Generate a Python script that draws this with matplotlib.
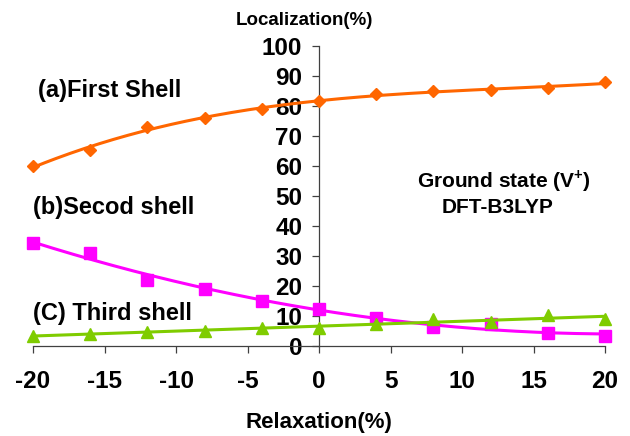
import numpy as np
import matplotlib
matplotlib.use('Agg')
import matplotlib.pyplot as plt

# relaxation (%) and localization (%) for each shell
relax = [-20, -16, -12, -8, -4, 0, 4, 8, 12, 16, 20]
first_shell = [60, 65.3, 73, 76, 79, 81.8, 84, 84.9, 85.3, 86, 87.9]
second_shell = [34.3, 31, 22, 19, 15, 12.3, 9.3, 6.3, 7.5, 4.2, 3.3]
third_shell = [3.3, 4, 4.8, 5.1, 6, 6, 7.2, 9.1, 8.1, 10.2, 9]

x_ticks = [-20, -15, -10, -5, 0, 5, 10, 15, 20]
y_ticks = [0, 10, 20, 30, 40, 50, 60, 70, 80, 90, 100]

plt.rcParams['font.family'] = ['Liberation Sans', 'DejaVu Sans']
plt.rcParams['font.weight'] = 'bold'
plt.rcParams['mathtext.fontset'] = 'custom'
plt.rcParams['mathtext.rm'] = 'Liberation Sans:bold'
plt.rcParams['mathtext.bf'] = 'Liberation Sans:bold'

fig = plt.figure(figsize=(6.3, 4.36), dpi=100)
ax = fig.add_axes([0.0524, 0.2064, 0.908, 0.688])

xs = np.array(relax, dtype=float)
xfit = np.linspace(-20, 20, 200)

# (values, colour, marker, marker size, trend order)
series = [
    (first_shell, '#FF6600', 'D', 6.5, 3),
    (second_shell, '#FF00FF', 's', 8.5, 2),
    (third_shell, '#7FCC00', '^', 8.5, 1),
]
z = 3
for vals, col, mk, ms, deg in series:
    # trend line (polynomial fit of the points)
    coef = np.polyfit(xs, np.array(vals, dtype=float), deg)
    ax.plot(xfit, np.polyval(coef, xfit), color=col, lw=2.2, clip_on=False, zorder=z)
    ax.plot(xs, vals, linestyle='none', marker=mk, color=col, markersize=ms,
            clip_on=False, zorder=z + 0.5)
    z += 1

ax.set_xlim(-20, 20)
ax.set_ylim(0, 100)
ax.spines['top'].set_visible(False)
ax.spines['right'].set_visible(False)
ax.spines['left'].set_position(('data', 0))
ax.spines['bottom'].set_position(('data', 0))
for s in ('left', 'bottom'):
    ax.spines[s].set_color('#404040')
    ax.spines[s].set_linewidth(0.9)

ax.set_xticks(x_ticks)
ax.set_yticks(y_ticks)
ax.set_xticklabels([str(t) for t in x_ticks], fontsize=17.5, fontweight='bold')
ax.set_yticklabels([str(t) for t in y_ticks], fontsize=17.5, fontweight='bold')
ax.tick_params(axis='x', direction='out', length=5, width=0.9, color='#404040', pad=12)
ax.tick_params(axis='y', direction='out', length=5, width=0.9, color='#404040', pad=7)

fig.text(0.4825, 0.943, 'Localization(%)', ha='center', va='baseline', fontsize=13.5, fontweight='bold')
fig.text(0.5056, 0.018, 'Relaxation(%)', ha='center', va='baseline', fontsize=16, fontweight='bold')

fig.text(0.060, 0.778, '(a)First Shell', ha='left', va='baseline', fontsize=17, fontweight='bold')
fig.text(0.052, 0.509, '(b)Secod shell', ha='left', va='baseline', fontsize=17, fontweight='bold')
fig.text(0.052, 0.266, '(C) Third shell', ha='left', va='baseline', fontsize=17, fontweight='bold')

fig.text(0.800, 0.570, 'Ground state (V$^{+}$)', ha='center', va='baseline', fontsize=15, fontweight='bold')
fig.text(0.789, 0.511, 'DFT-B3LYP', ha='center', va='baseline', fontsize=15, fontweight='bold')

fig.savefig('out.png', dpi=100)
